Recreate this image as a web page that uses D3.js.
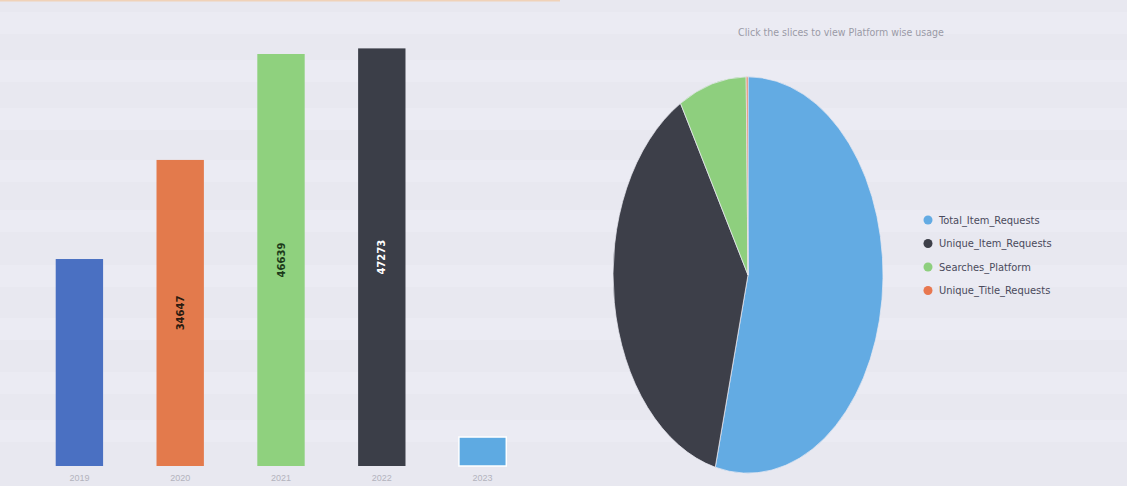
<html>
<script src='https://d3js.org/d3.v7.min.js'></script>
<style>
  body { margin: 0; background: #e8e8f0; }
  svg { display: block; font-family: 'DejaVu Sans Condensed', 'DejaVu Sans', sans-serif; }
</style>
<body onload='init()'>
<svg width=1127 height=486></svg>
<script>
// bar chart: total item requests per year
var years = ['2019', '2020', '2021', '2022', '2023'];
var yearValues = [23430, 34647, 46639, 47273, 3280];
var barColors = ['#4a70c2', '#e37a4c', '#8fd17e', '#3b3e48', '#5eaae2'];
var labelColors = ['#1c2a4a', '#2a1a10', '#1d3a1a', '#ffffff', '#ffffff'];

// pie chart: platform wise usage
var platforms = ['Total_Item_Requests', 'Unique_Item_Requests', 'Searches_Platform', 'Unique_Title_Requests'];
var platformValues = [155269, 108800, 23380, 620];
var pieColors = ['#63abe3', '#3d3f49', '#8ecf7e', '#e8774f'];

function init() {
  var svg = d3.select('svg');

  // faint scan stripes in the background
  var bands = [12, 60, 108, 160, 210, 265, 318, 372, 420];
  svg.append('g').selectAll('rect').data(bands).enter().append('rect')
    .attr('x', 0).attr('y', function(d) { return d; })
    .attr('width', 1127).attr('height', 22)
    .attr('fill', '#f1f1f7').attr('opacity', 0.4);

  svg.append('rect').attr('x', 0).attr('y', 0).attr('width', 560).attr('height', 1.5)
    .attr('fill', '#f0d2b8');

  var xs = d3.scaleBand().domain(years).range([29, 533]).paddingInner(0.53).paddingOuter(0.265);
  var ys = d3.scaleLinear().domain([0, 50000]).range([466, 466 - 50000 / 113.2]);

  var bars = svg.append('g');
  bars.selectAll('rect').data(yearValues).enter().append('rect')
    .attr('x', function(d, i) { return xs(years[i]); })
    .attr('y', function(d) { return ys(d); })
    .attr('width', xs.bandwidth())
    .attr('height', function(d) { return ys(0) - ys(d); })
    .attr('fill', function(d, i) { return barColors[i]; })
    .attr('stroke', function(d, i) { return i == 4 ? '#ffffff' : 'none'; })
    .attr('stroke-width', 1.5);

  // value labels, rotated, only where the bar is tall enough
  bars.selectAll('text').data(yearValues).enter()
    .filter(function(d, i) { return i > 0 && i < 4; })
    .append('text')
    .attr('transform', function(d) {
      var i = yearValues.indexOf(d);
      var cx = xs(years[i]) + xs.bandwidth() / 2;
      var cy = (ys(d) + ys(0)) / 2;
      return 'translate(' + cx + ',' + cy + ') rotate(-90)';
    })
    .attr('text-anchor', 'middle')
    .attr('dy', '0.35em')
    .attr('font-family', 'DejaVu Sans')
    .attr('font-weight', 'bold')
    .attr('font-size', 10)
    .attr('fill', function(d) { return labelColors[yearValues.indexOf(d)]; })
    .text(function(d) { return d; });

  var xAxis = svg.append('g')
    .attr('transform', 'translate(0,466)')
    .call(d3.axisBottom(xs).tickSize(0).tickPadding(9));
  xAxis.select('.domain').remove();
  xAxis.selectAll('text').attr('fill', '#b3b3bd').attr('font-size', 9);

  // pie, stretched vertically like the reference
  var pie = d3.pie().sort(null);
  var arc = d3.arc().innerRadius(0).outerRadius(135);
  svg.append('g')
    .attr('transform', 'translate(748,275) scale(1,1.468)')
    .selectAll('path').data(pie(platformValues)).enter().append('path')
    .attr('d', arc)
    .attr('fill', function(d, i) { return pieColors[i]; })
    .attr('stroke', '#e9e9f1')
    .attr('stroke-width', 0.6);

  svg.append('text')
    .attr('x', 841).attr('y', 36)
    .attr('text-anchor', 'middle')
    .attr('font-size', 10.5)
    .attr('fill', '#9a9aa6')
    .text('Click the slices to view Platform wise usage');

  var legend = svg.append('g').attr('transform', 'translate(928,220)');
  var rows = legend.selectAll('g').data(platforms).enter().append('g')
    .attr('transform', function(d, i) { return 'translate(0,' + i * 23.5 + ')'; });
  rows.append('circle').attr('r', 4.5)
    .attr('fill', function(d, i) { return pieColors[i]; });
  rows.append('text')
    .attr('x', 11).attr('dy', '0.35em')
    .attr('font-size', 11)
    .attr('fill', '#4a4a5c')
    .text(function(d) { return d; });
}
</script>
</body>
</html>
